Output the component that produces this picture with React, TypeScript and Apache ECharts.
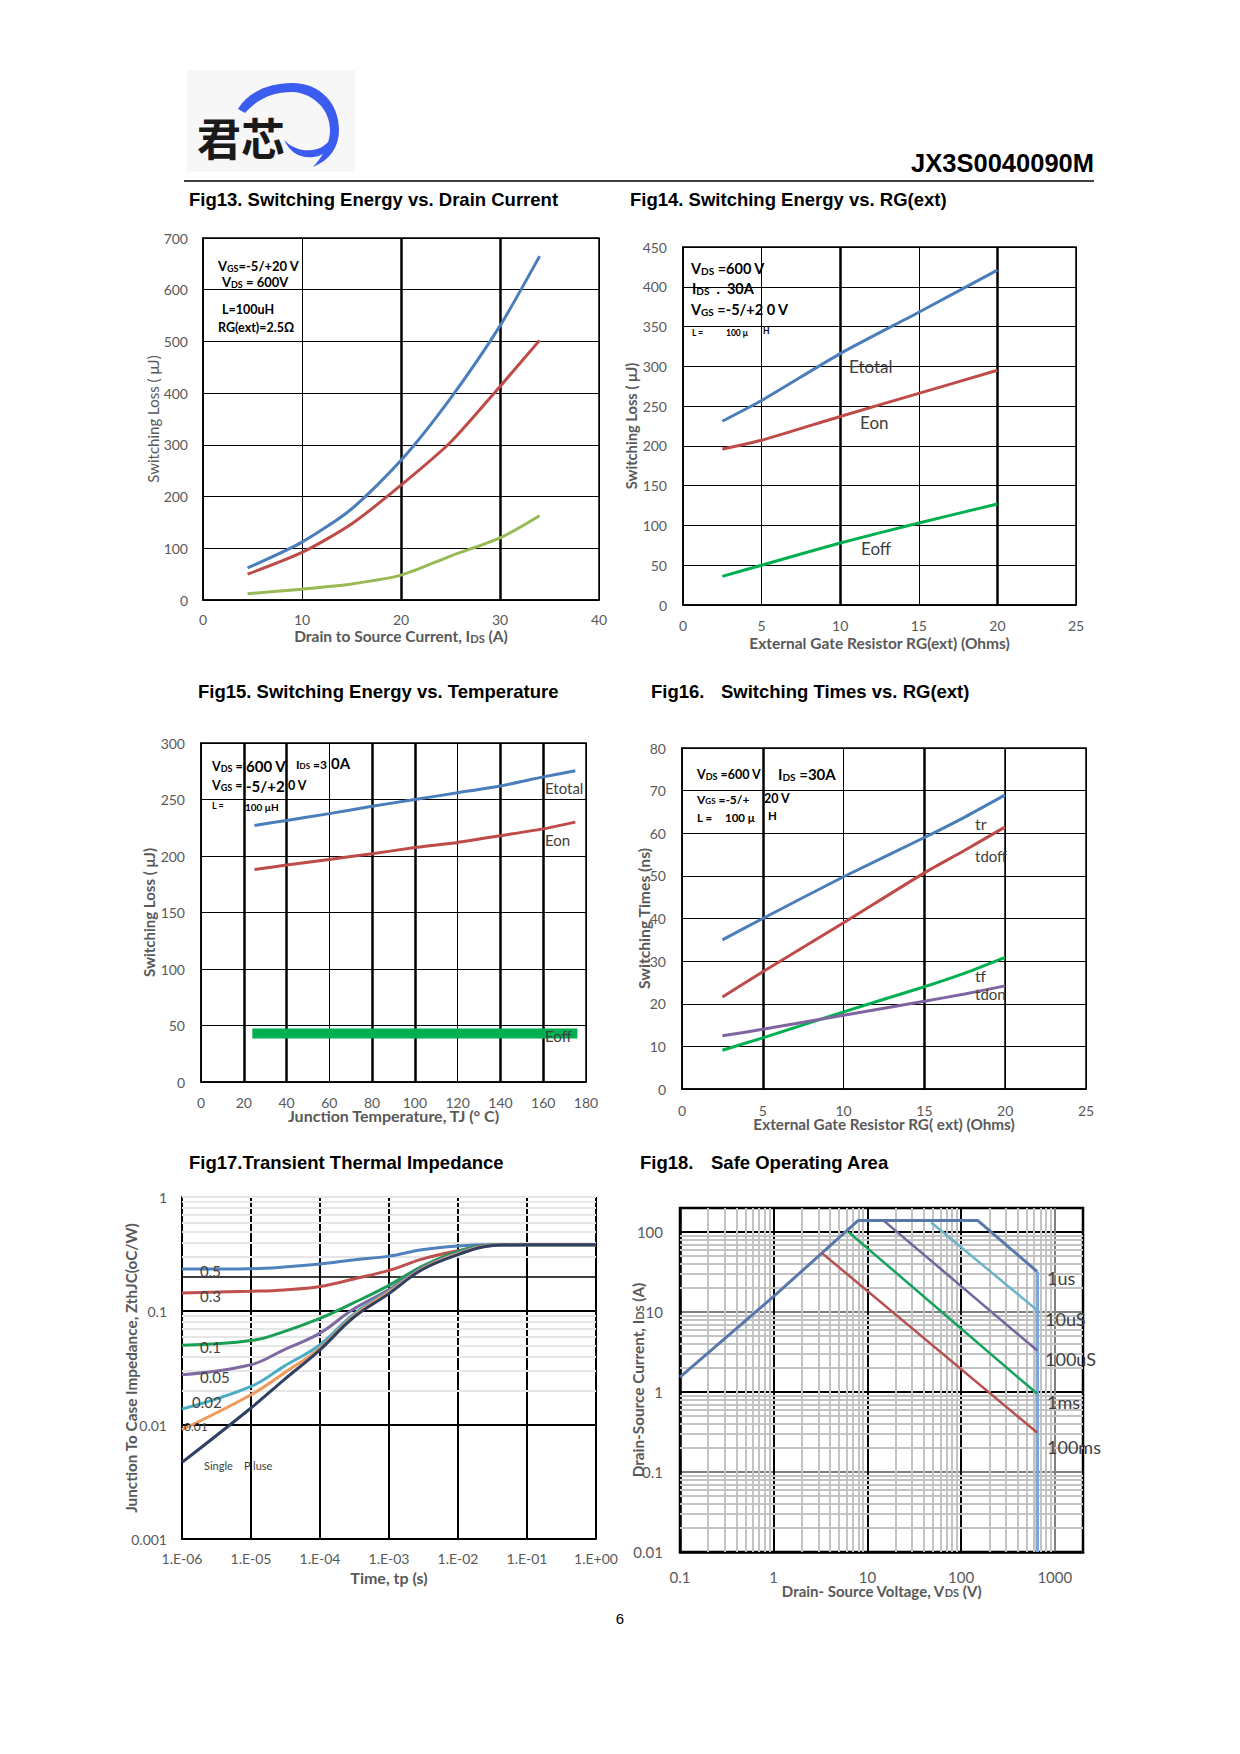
import React, { useEffect, useRef } from 'react';
import * as echarts from 'echarts';

// ---------------- data ----------------
// Fig13 Switching Energy vs Drain Current
const f13Ids = [4.5, 10, 15, 20, 25, 30, 34];
const f13Etotal = [62, 112, 176, 270, 390, 530, 665];
const f13Eon = [50, 92, 147, 222, 305, 413, 502];
const f13Eoff = [12, 21, 31, 48, 85, 120, 163];

// Fig14 Switching Energy vs RG(ext)
const f14Rg = [2.5, 5, 10, 15, 20];
const f14Etotal = [231, 257, 316, 368, 421];
const f14Eon = [196, 207, 237, 266, 295];
const f14Eoff = [36, 50, 78, 103, 127];

// Fig15 Switching Energy vs Temperature
const f15Tj = [25, 40, 60, 80, 100, 120, 140, 160, 175];
const f15Etotal = [227, 231.5, 237.5, 244, 250, 256, 262, 270, 275.5];
const f15Eon = [188, 192, 197, 202, 207.5, 212, 218, 224, 230];
const f15EoffTj = [24, 176];
const f15Eoff = [43, 43];

// Fig16 Switching Times vs RG(ext)
const f16Rg = [2.5, 5, 10, 15, 17.5, 20];
const f16Tr = [35, 40, 49.8, 59, 63.8, 69];
const f16Tdoff = [21.6, 27.5, 39, 50.7, 56, 61.5];
const f16Tf = [9.1, 12, 18.1, 24, 27.2, 30.9];
const f16Tdon = [12.5, 14, 17.3, 20.6, 22.3, 24.2];

// Fig17 Transient Thermal Impedance
const f17Time = [1e-6, 1e-5, 3e-5, 1e-4, 3e-4, 1e-3, 3e-3, 1e-2, 3e-2, 1e-1, 1];
const f17D05 = [0.233, 0.235, 0.243, 0.258, 0.28, 0.303, 0.345, 0.372, 0.382, 0.382, 0.382];
const f17D03 = [0.144, 0.149, 0.153, 0.164, 0.19, 0.227, 0.285, 0.338, 0.378, 0.382, 0.382];
const f17D01 = [0.05, 0.055, 0.066, 0.086, 0.117, 0.168, 0.246, 0.333, 0.378, 0.382, 0.382];
const f17D005 = [0.0276, 0.0338, 0.0457, 0.064, 0.103, 0.154, 0.238, 0.323, 0.376, 0.382, 0.382];
const f17D002 = [0.0138, 0.0218, 0.0327, 0.0506, 0.093, 0.149, 0.235, 0.32, 0.375, 0.382, 0.382];
const f17D001 = [0.0091, 0.0184, 0.0285, 0.0473, 0.0897, 0.146, 0.233, 0.318, 0.375, 0.382, 0.382];
const f17Single = [0.0047, 0.0141, 0.0249, 0.0457, 0.0868, 0.142, 0.23, 0.312, 0.374, 0.382, 0.382];
const f17XTicks = ['1.E-06', '1.E-05', '1.E-04', '1.E-03', '1.E-02', '1.E-01', '1.E+00'];
const f17YTicks = ['0.001', '0.01', '0.1', '1'];

// Fig18 Safe Operating Area
const soa1usV = [0.1, 1, 8, 150, 650];
const soa1usI = [1.54, 15.7, 140, 140, 32];
const soaLimitV = [650, 650];
const soaLimitI = [32, 0.01];
const soa10usV = [48, 650];
const soa10usI = [132, 10.5];
const soa100usV = [14.8, 650];
const soa100usI = [140, 3.3];
const soa1msV = [6.3, 650];
const soa1msI = [100, 0.95];
const soa100msV = [3.25, 650];
const soa100msI = [55, 0.31];
const f18XTicks = ['0.1', '1', '10', '100', '1000'];
const f18YTicks = ['0.01', '0.1', '1', '10', '100'];

// ---------------- styling helpers ----------------
const FONT = 'Lato, "Open Sans", sans-serif';
const TFONT = '"Liberation Sans", Arial, sans-serif';
const GRAY = '#595959';

const LOGO_ARC =
  'M238,109 C248,92 269,83 292,83 C320,83 339,103 339,130 C339,147 330,160 313,167 C324,155 330,143 330,130 C330,110 314,93 292,92 C273,92 257,99 245,113 Z';
const LOGO_HOOK =
  'M284,140 C294,150 306,152 317,149 C327,146 333,138 336,127 L338,131 C336,145 327,155 314,157 C300,159 290,152 284,140 Z';

let shapesRegistered = false;
function registerShapes() {
  if (shapesRegistered) return;
  echarts.graphic.registerShape('logoArc', echarts.graphic.extendPath(LOGO_ARC, {}) as any);
  echarts.graphic.registerShape('logoHook', echarts.graphic.extendPath(LOGO_HOOK, {}) as any);
  shapesRegistered = true;
}

const zip = (xs: number[], ys: number[]) => xs.map((x, i) => [x, ys[i]]);

function gridAt(left: number, top: number, width: number, height: number, show = true, bw = 1.5) {
  return {
    left, top, width, height,
    containLabel: false,
    outerBoundsMode: 'none',
    show, borderColor: '#000', borderWidth: bw,
    backgroundColor: 'rgba(0,0,0,0)',
  };
}

const subRich = (size: number, color = GRAY) => ({
  s: { fontFamily: FONT, fontSize: size, fontWeight: 'bold', color, verticalAlign: 'bottom' },
});

function linAxis(
  grid: number, min: number, max: number, interval: number,
  name: string, nameGap: number, labelMargin: number,
  nameSize = 15, nameWeight: any = 'bold'
) {
  return {
    type: 'value', gridIndex: grid, min, max, interval,
    name, nameLocation: 'middle', nameGap, nameMoveOverlap: false,
    nameTextStyle: { fontFamily: FONT, fontWeight: nameWeight, fontSize: nameSize, color: GRAY, rich: subRich(nameSize * 0.72) },
    axisLine: { show: true, lineStyle: { color: '#000', width: 1.5, type: 'solid' } },
    axisTick: { show: false },
    axisLabel: { fontFamily: FONT, fontSize: 14, color: GRAY, margin: labelMargin },
    splitLine: { show: true, lineStyle: { color: '#000', width: 1, type: 'solid' } },
  };
}

const decadeLabel = (labels: string[], minExp: number) => (v: number) => {
  const e = Math.log10(v);
  const r = Math.round(e);
  if (Math.abs(e - r) > 1e-6) return '';
  return labels[r - minExp] ?? '';
};

function minorValues(minExp: number, maxVal: number) {
  const out: number[] = [];
  for (let e = minExp; Math.pow(10, e) < maxVal; e++) {
    for (let k = 2; k <= 9; k++) {
      const v = k * Math.pow(10, e);
      if (v < maxVal * 0.999) out.push(v);
    }
  }
  return out;
}

function marks(items: any[]) {
  return {
    silent: true,
    symbol: ['none', 'none'],
    label: { show: false },
    emphasis: { disabled: true },
    lineStyle: { type: 'solid' },
    z: 2,
    data: items,
  };
}
const vMark = (v: number, width: number, color = '#000') => ({ xAxis: v, lineStyle: { color, width, type: 'solid' } });
const hMark = (v: number, width: number, color = '#000') => ({ yAxis: v, lineStyle: { color, width, type: 'solid' } });

function line(idx: number, name: string, data: number[][], color: string, width = 3, smooth: any = 0.25, extra: any = {}) {
  return {
    type: 'line', name, xAxisIndex: idx, yAxisIndex: idx, data,
    showSymbol: false, symbol: 'none', smooth,
    lineStyle: { color, width, cap: 'butt', type: 'solid' }, itemStyle: { color },
    z: 3, silent: true,
    ...extra,
  };
}

function txt(x: number, y: number, text: string, size: number, o: any = {}) {
  return {
    type: 'text', x, y, silent: true, z: 100,
    style: {
      text, fontSize: size,
      fontFamily: o.family ?? FONT,
      fontWeight: o.weight ?? 'normal',
      fill: o.fill ?? '#000',
      align: o.align ?? 'left',
      verticalAlign: o.va ?? 'middle',
      rich: o.rich,
    },
  };
}

const annRich = (size: number) => ({
  b: { fontFamily: FONT, fontSize: size, fontWeight: 'bold', fill: '#000', verticalAlign: 'bottom' },
  s: { fontFamily: FONT, fontSize: Math.round(size * 0.68), fontWeight: 'bold', fill: '#000', verticalAlign: 'bottom' },
});
const ann = (x: number, y: number, text: string, size: number) => txt(x, y, text, size, { rich: annRich(size), weight: 'bold' });
const bold = (x: number, y: number, text: string, size: number) => txt(x, y, text, size, { weight: 'bold' });
const curveLabel = (x: number, y: number, text: string, size: number) => txt(x, y, text, size, { fill: '#404040' });
const title = (x: number, y: number, text: string) => txt(x, y, text, 18.5, { family: TFONT, weight: 'bold' });

function buildOption() {
  const f17Minor = minorValues(-3, 1).filter((v) => Math.abs(v - 0.2) > 1e-9 && Math.abs(v - 0.002) > 1e-9);
  const f18MinorX = minorValues(-1, 2000);
  const f18MinorY = minorValues(-2, 200);

  const grid = [
    gridAt(203, 238, 396, 362),
    gridAt(683, 247, 393, 358),
    gridAt(201, 743, 385, 339),
    gridAt(682, 748, 404, 341),
    gridAt(182, 1197, 414, 342, false),
    gridAt(680, 1208, 403, 344, true, 2.5),
  ];

  const xAxis: any[] = [
    linAxis(0, 0, 40, 10, 'Drain to Source Current, I{s|DS} (A)', 28, 12, 15.5),
    linAxis(1, 0, 25, 5, 'External Gate Resistor RG(ext) (Ohms)', 30, 13, 15.5),
    linAxis(2, 0, 180, 20, 'Junction Temperature, TJ (° C)', 25, 13, 16),
    linAxis(3, 0, 25, 5, 'External Gate Resistor RG( ext) (Ohms)', 27, 14, 15.3),
    {
      type: 'log', gridIndex: 4, min: 1e-6, max: 1, logBase: 10,
      name: 'Time, tp (s)', nameLocation: 'middle', nameGap: 30, nameMoveOverlap: false,
      nameTextStyle: { fontFamily: FONT, fontWeight: 'bold', fontSize: 16, color: GRAY },
      axisLine: { show: true, lineStyle: { color: '#000', width: 2, type: 'solid' } },
      axisTick: { show: false },
      axisLabel: { fontFamily: FONT, fontSize: 14, color: GRAY, margin: 12, formatter: decadeLabel(f17XTicks, -6) },
      splitLine: { show: true, lineStyle: { color: '#000', width: 2, type: 'solid' } },
    },
    {
      type: 'log', gridIndex: 5, min: 0.1, max: 2000, logBase: 10,
      name: 'Drain- Source Voltage, V{s|DS} (V)', nameLocation: 'middle', nameGap: 31, nameMoveOverlap: false,
      nameTextStyle: { fontFamily: FONT, fontWeight: 'bold', fontSize: 15, color: GRAY, rich: subRich(11) },
      axisLine: { show: true, lineStyle: { color: '#000', width: 2.5, type: 'solid' } },
      axisTick: { show: false },
      axisLabel: { fontFamily: FONT, fontSize: 15, color: GRAY, margin: 17, formatter: decadeLabel(f18XTicks, -1) },
      splitLine: { show: true, lineStyle: { color: ['#000', '#000', '#000', '#000', '#808080', '#000'], width: 2, type: 'solid' } },
    },
  ];

  const yAxis: any[] = [
    linAxis(0, 0, 700, 100, 'Switching Loss ( μJ)', 43, 15, 15, 'normal'),
    linAxis(1, 0, 450, 50, 'Switching Loss ( μJ)', 45, 16, 14.7),
    linAxis(2, 0, 300, 50, 'Switching Loss ( μJ)', 45, 16, 15),
    linAxis(3, 0, 80, 10, 'Switching Times (ns)', 30, 16, 15.7),
    {
      type: 'log', gridIndex: 4, min: 0.001, max: 1, logBase: 10,
      name: 'Junction To Case Impedance, ZthJC(oC/W)', nameLocation: 'middle', nameGap: 44, nameMoveOverlap: false,
      nameTextStyle: { fontFamily: FONT, fontWeight: 'bold', fontSize: 15.3, color: GRAY },
      axisLine: { show: true, lineStyle: { color: '#000', width: 2, type: 'solid' } },
      axisTick: { show: false },
      axisLabel: { fontFamily: FONT, fontSize: 14, color: GRAY, margin: 15, formatter: decadeLabel(f17YTicks, -3) },
      splitLine: { show: false },
    },
    {
      type: 'log', gridIndex: 5, min: 0.01, max: 200, logBase: 10,
      name: 'Drain-Source Current, I{s|DS} (A)', nameLocation: 'middle', nameGap: 35, nameMoveOverlap: false,
      nameTextStyle: { fontFamily: FONT, fontWeight: 'bold', fontSize: 15.3, color: GRAY, rich: subRich(11) },
      axisLine: { show: true, lineStyle: { color: '#000', width: 2.5, type: 'solid' } },
      axisTick: { show: false },
      axisLabel: { fontFamily: FONT, fontSize: 15, color: GRAY, margin: 17, formatter: decadeLabel(f18YTicks, -2) },
      splitLine: { show: true, lineStyle: { color: ['#000', '#808080', '#000', '#808080', '#000', '#000'], width: 2, type: 'solid' } },
    },
  ];

  const series: any[] = [
    // Fig13
    line(0, 'Etotal', zip(f13Ids, f13Etotal), '#4a7ebb', 3, 0.25, { markLine: marks([vMark(20, 2.5), vMark(30, 2.5)]) }),
    line(0, 'Eon', zip(f13Ids, f13Eon), '#be4b48'),
    line(0, 'Eoff', zip(f13Ids, f13Eoff), '#98b954'),
    // Fig14
    line(1, 'Etotal', zip(f14Rg, f14Etotal), '#4a7ebb', 3, 0.2, { markLine: marks([vMark(10, 2.5), vMark(20, 2.5)]) }),
    line(1, 'Eon', zip(f14Rg, f14Eon), '#be4b48', 3, 0.2),
    line(1, 'Eoff', zip(f14Rg, f14Eoff), '#00b050', 3, 0.2),
    // Fig15
    line(2, 'Etotal', zip(f15Tj, f15Etotal), '#4a7ebb', 3, 0.2, {
      markLine: marks([20, 40, 80, 100, 140, 160].map((v) => vMark(v, 2.5))),
    }),
    line(2, 'Eon', zip(f15Tj, f15Eon), '#be4b48', 3, 0.2),
    line(2, 'Eoff', zip(f15EoffTj, f15Eoff), '#00b050', 10, false),
    // Fig16
    line(3, 'tr', zip(f16Rg, f16Tr), '#4a7ebb', 3, 0.2, {
      markLine: marks([vMark(5, 2.5), vMark(15, 2.5), vMark(20, 1.5)]),
    }),
    line(3, 'tdoff', zip(f16Rg, f16Tdoff), '#be4b48', 3, 0.2),
    line(3, 'tf', zip(f16Rg, f16Tf), '#00b050', 3, 0.2),
    line(3, 'tdon', zip(f16Rg, f16Tdon), '#8064a2', 3, 0.2),
    // Fig17
    line(4, '0.5', zip(f17Time, f17D05), '#4f81bd', 3, 0.4, {
      markLine: marks([
        ...f17Minor.map((v) => hMark(v, 2, '#e6e6e6')),
        hMark(1, 2, '#e6e6e6'),
        hMark(0.2, 1.5),
        hMark(0.1, 2),
        hMark(0.01, 2),
        hMark(0.002, 1.5),
      ]),
    }),
    line(4, '0.3', zip(f17Time, f17D03), '#c0504d', 3, 0.4),
    line(4, '0.1', zip(f17Time, f17D01), '#1a9f55', 3, 0.4),
    line(4, '0.05', zip(f17Time, f17D005), '#7f6aa0', 3, 0.4),
    line(4, '0.02', zip(f17Time, f17D002), '#4bacc6', 3, 0.4),
    line(4, '0.01', zip(f17Time, f17D001), '#f0995a', 3, 0.4),
    line(4, 'Single Pluse', zip(f17Time, f17Single), '#2e4165', 3, 0.4),
    // Fig18
    line(5, '1us', zip(soa1usV, soa1usI), '#5878ac', 3, false, {
      markLine: marks([
        ...f18MinorX.map((v) => vMark(v, 2, '#c3c3c3')),
        ...f18MinorY.map((v) => hMark(v, 2, '#c3c3c3')),
      ]),
    }),
    line(5, 'limit', zip(soaLimitV, soaLimitI), '#7ea6d8', 3.5, false),
    line(5, '10uS', zip(soa10usV, soa10usI), '#6cb3c8', 2.5, false),
    line(5, '100uS', zip(soa100usV, soa100usI), '#76659c', 2.5, false),
    line(5, '1ms', zip(soa1msV, soa1msI), '#13a35a', 2.5, false),
    line(5, '100ms', zip(soa100msV, soa100msI), '#b7504f', 2.5, false),
  ];

  const graphic: any[] = [
    // header / logo
    { type: 'rect', silent: true, shape: { x: 187, y: 70, width: 168, height: 102 }, style: { fill: '#f7f7f7' } },
    txt(197, 137, '君芯', 44, { family: '"Noto Sans CJK SC", sans-serif', weight: 'bold', fill: '#1a1a1a' }),
    { type: 'logoArc', x: 0, y: 0, silent: true, z: 101, style: { fill: '#3c5cf0' } },
    { type: 'logoHook', x: 0, y: 0, silent: true, z: 101, style: { fill: '#3c5cf0' } },
    txt(1094, 163, 'JX3S0040090M', 25.5, { family: TFONT, weight: 'bold', align: 'right' }),
    { type: 'line', silent: true, shape: { x1: 184, y1: 181, x2: 1094, y2: 181 }, style: { stroke: '#000', lineWidth: 1.5 } },

    // titles
    title(189, 199, 'Fig13. Switching Energy vs. Drain Current'),
    title(630, 199, 'Fig14. Switching Energy vs. RG(ext)'),
    title(198, 691, 'Fig15. Switching Energy vs. Temperature'),
    title(651, 691, 'Fig16.'),
    title(721, 691, 'Switching Times vs. RG(ext)'),
    title(189, 1162, 'Fig17.Transient Thermal Impedance'),
    title(640, 1162, 'Fig18.'),
    title(711, 1162, 'Safe Operating Area'),

    // Fig13 annotations
    ann(218, 266, '{b|V}{s|GS}{b|=-5/+20 V}', 13),
    ann(222, 282, '{b|V}{s|DS}{b| = 600V}', 13),
    bold(222, 309, 'L=100uH', 12.5),
    bold(218, 327, 'RG(ext)=2.5Ω', 12.5),

    // Fig14 annotations
    ann(691, 268, '{b|V}{s|DS}{b| =600 V}', 14.5),
    ann(692, 288, '{b|I}{s|DS}{b|  .  30A}', 14.5),
    ann(691, 309, '{b|V}{s|GS}{b| =-5/+2 0 V}', 14.5),
    bold(692, 333, 'L =', 8.5),
    bold(726, 333, '100 μ', 8.5),
    bold(763, 331, 'H', 8.5),
    curveLabel(849, 366, 'Etotal', 17),
    curveLabel(860, 422, 'Eon', 17),
    curveLabel(861, 548, 'Eoff', 17),

    // Fig15 annotations
    ann(212, 766, '{b|V}{s|DS}{b| =}', 12.5),
    bold(246, 766, '600 V', 15),
    ann(296, 764, '{b|I}{s|DS}{b| =3}', 12),
    bold(331, 763, '0A', 15),
    ann(212, 785, '{b|V}{s|GS}{b| =}', 12.5),
    bold(246, 786, '-5/+2', 15),
    bold(288, 785, '0 V', 12.5),
    bold(212, 805, 'L =', 9),
    bold(245, 807, '100 μH', 10),
    curveLabel(545, 788, 'Etotal', 15),
    curveLabel(545, 840, 'Eon', 15),
    curveLabel(545, 1036, 'Eoff', 15),

    // Fig16 annotations
    ann(697, 774, '{b|V}{s|DS}{b| =600 V}', 12.5),
    ann(778, 774, '{b|I}{s|DS}{b| =30A}', 15),
    ann(697, 799, '{b|V}{s|GS}{b| =-5/+}', 12),
    bold(764, 798, '20 V', 12.5),
    bold(697, 817, 'L =', 11.5),
    bold(725, 817, '100 μ', 11.5),
    bold(768, 815, 'H', 11.5),
    curveLabel(975, 823, 'tr', 16),
    curveLabel(975, 856, 'tdoff', 15),
    curveLabel(975, 975, 'tf', 16),
    curveLabel(975, 994, 'tdon', 15),

    // Fig17 curve labels
    curveLabel(200, 1271, '0.5', 15),
    curveLabel(200, 1296, '0.3', 15),
    curveLabel(200, 1347, '0.1', 15),
    curveLabel(200, 1377, '0.05', 15),
    curveLabel(192, 1402, '0.02', 15),
    curveLabel(184, 1426, '0.01', 12),
    curveLabel(204, 1465, 'Single', 11),
    curveLabel(244, 1465, 'P luse', 11),

    // Fig18 curve labels
    curveLabel(1047, 1278, '1us', 18),
    curveLabel(1045, 1319, '10uS', 18),
    curveLabel(1045, 1359, '100uS', 18),
    curveLabel(1047, 1402, '1ms', 18),
    curveLabel(1047, 1447, '100ms', 18),

    // page number
    txt(620, 1618, '6', 15, { family: TFONT, align: 'center' }),
  ];

  return {
    animation: false,
    backgroundColor: '#fff',
    grid, xAxis, yAxis, series, graphic,
  };
}

export default function App() {
  const ref = useRef<HTMLDivElement>(null);
  useEffect(() => {
    registerShapes();
    const chart = echarts.init(ref.current!, null, { renderer: 'svg', width: 1240, height: 1754 });
    chart.setOption(buildOption() as any);
    return () => chart.dispose();
  }, []);
  return (
    <div
      ref={ref}
      style={{ position: 'absolute', left: 0, top: 0, width: 1240, height: 1754, background: '#fff' }}
    />
  );
}
